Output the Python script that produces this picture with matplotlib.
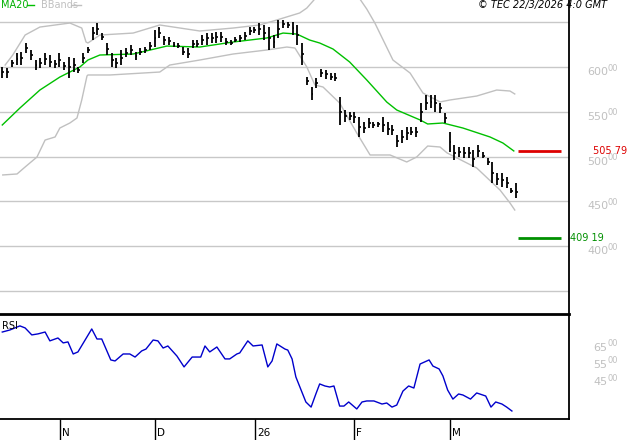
import numpy as np
import matplotlib
matplotlib.use("Agg")
import matplotlib.pyplot as plt

# daily bars (high / low / close)
highs = [600, 599, 608, 616, 617, 627, 619, 608, 610, 616, 613, 608, 616, 606, 611, 610, 600, 616, 622, 645,
         649, 638, 627, 616, 610, 619, 621, 625, 617, 621, 622, 628, 641, 645,
         635, 633, 628, 627, 622, 621, 630, 630, 636, 638, 638, 639, 639, 632, 630, 633, 636, 639, 645, 645,
         649, 647, 645, 636, 652, 652, 650, 650, 647,
         627, 589, 578, 588, 598, 597, 593, 593, 567, 552, 550, 550, 544, 539, 543, 539, 539, 544, 539, 535,
         524, 530, 533, 533, 533, 560, 569, 569, 569, 560, 549, 527, 513, 511, 511, 511, 507, 513, 505, 498,
         494, 482, 482, 477, 465, 470]
lows = [588, 588, 600, 602, 602, 616, 608, 597, 599, 602, 600, 599, 600, 597, 588, 594, 593, 604, 616, 630,
        636, 630, 613, 600, 599, 602, 611, 613, 608, 613, 616, 619, 622, 632,
        625, 625, 622, 621, 613, 610, 621, 622, 625, 625, 627, 627, 628, 625, 625, 628, 628, 630, 636, 638,
        636, 630, 619, 621, 632, 644, 644, 636, 625,
        602, 580, 563, 577, 589, 587, 586, 584, 535, 539, 541, 538, 522, 526, 532, 532, 533, 527, 524, 524,
        511, 515, 519, 524, 522, 539, 552, 554, 550, 549, 538, 505, 496, 500, 498, 498, 488, 500, 498, 491,
        471, 468, 466, 465, 459, 454]
closes = [594, 594, 604, 609, 610, 621, 613, 602, 604, 609, 606, 603, 608, 601, 600, 602, 597, 610, 619, 638,
          642, 634, 620, 608, 604, 610, 616, 619, 612, 617, 619, 623, 632, 638,
          630, 629, 625, 624, 617, 615, 626, 626, 630, 632, 632, 633, 634, 628, 627, 630, 632, 635, 640, 641,
          642, 638, 632, 628, 642, 648, 647, 643, 636,
          614, 584, 570, 582, 593, 592, 589, 588, 550, 545, 545, 544, 533, 532, 537, 535, 536, 535, 531, 530,
          517, 522, 526, 528, 527, 550, 560, 561, 560, 554, 543, 516, 504, 505, 504, 504, 497, 506, 501, 494,
          482, 475, 474, 471, 462, 461]

ma_idx = [0, 3.7, 7.9, 12.1, 16.3, 18, 20.5, 27.5, 34.6, 41.5, 48.5, 55.6, 59, 61.9, 64.6, 66.7, 69.5, 73,
          76.6, 80.8, 82.9, 87.8, 89.4, 92.6, 96.8, 102.5, 105.2, 107.5]
ma20 = [535.3, 554.2, 574.3, 588.8, 600, 607.8, 613.4, 614.5, 623.4, 622.3, 627.9, 632.4, 637.9, 636.8,
        630.1, 626.8, 620.1, 605.6, 585.5, 560.9, 552, 540.9, 536.4, 537.5, 531.9, 521.9, 515.2, 506.3]

up_idx = [0.6, 2.2, 4.8, 7.9, 14.2, 16.7, 17.6, 18, 20.5, 27.5, 33.1, 41.5, 48.5, 54.1, 57.7, 62.5, 64, 71,
          76.6, 78.3, 82.1, 85.7, 88.4, 92, 94.1, 99.7, 103.9, 106.7, 107.7]
bb_up = [602.2, 613.4, 635.7, 644.6, 649.1, 643.5, 627.9, 626.8, 635.7, 637.9, 646.9, 640.2, 643.5, 646.9,
         652.5, 660.3, 665.8, 708, 664.7, 649.1, 607.8, 593.3, 571, 561, 563.2, 567.6, 574.3, 573.2, 569.9]

lo_idx = [0.1, 3.1, 4.8, 7.3, 9, 11.1, 12.1, 14.2, 15.7, 16.7, 17.8, 18, 22.6, 33.1, 35.2, 41.5, 48.5, 55.6,
          59.8, 61.5, 64, 65.7, 67.4, 70.9, 74.5, 77.3, 81.5, 85, 87.1, 89.4, 92, 93.5, 99.7, 104.6, 106.7, 107.7]
bb_lo = [479.5, 480.6, 488.4, 499.6, 518.5, 521.9, 531.9, 537.5, 543.1, 563.2, 590, 591.1, 591.1, 594.4,
         602.2, 607.8, 614.5, 619, 622.3, 621.2, 600, 579.9, 577.7, 559.8, 526.3, 501.8, 501.8, 494, 499.6,
         511.8, 510.7, 504, 487.3, 462.7, 448.2, 440.4]

rsi_idx = [0, 1.6, 3.7, 4.8, 6.2, 7.5, 9, 10, 11.7, 12.8, 13.8, 14.9, 15.9, 18.8, 19.9, 20.9, 22.8, 23.7,
           25.4, 26.8, 27.9, 29.3, 30.2, 31.7, 32.7, 33.8, 34.8, 36.7, 38.2, 39.9, 41.7, 42.6, 43.6, 45.1,
           46.8, 47.8, 49.3, 49.9, 51.6, 52.7, 54.6, 55.8, 56.7, 57.7, 59.4, 60, 60.9, 61.7, 63.8, 64.9,
           65.9, 66.7, 67.8, 68.8, 69.7, 70.9, 71.8, 72.8, 74.5, 75.6, 76.6, 78.1, 79.8, 80.8, 81.9, 82.9,
           84.2, 85.4, 86.5, 87.8, 89.7, 90.5, 91.8, 92.6, 93.6, 94.7, 95.9, 96.8, 98.4, 99.7, 101.6, 102.7,
           103.7, 105, 106, 107.1]
rsi = [72.6, 73.8, 76.2, 75, 70.9, 71.5, 72.6, 67.4, 69.1, 66.2, 66.8, 59.7, 60.9, 74.4, 68.5, 68.5, 56.2,
       55.6, 59.7, 59.7, 57.9, 61.5, 62.6, 67.9, 67.4, 63.2, 64.4, 58.5, 52.1, 57.9, 57.9, 64.4, 60.9, 63.8,
       56.8, 56.8, 59.7, 60.3, 67.4, 64.4, 65, 52.1, 55.6, 65.6, 62.6, 62, 56.8, 46.2, 31.5, 28.5, 36.2,
       42.1, 40.9, 40.3, 40.9, 29.1, 29.1, 31.5, 27.4, 31.5, 32.1, 32.1, 30.3, 30.9, 28.5, 29.7, 37.9, 40.9,
       39.7, 53.8, 56.2, 52.6, 50.9, 46.8, 38.5, 33.2, 36.2, 35.6, 33.2, 36.8, 35, 28.5, 31.5, 30.3, 28.5, 26.2]

month_idx = [12.1, 32.1, 53.1, 73.9, 94]
month_lab = ["N", "D", "26", "F", "M"]
price_ticks = [400, 450, 500, 550, 600]
grid_lines = [350, 400, 450, 500, 550, 600, 650]
rsi_ticks = [45, 55, 65]
resist = 505.79
support = 409.19

GRID = "#c8c8c8"
LAB = "#c0c0c0"
x = np.arange(len(highs))
xlim = (-0.48, 119.1)

fig = plt.figure(figsize=(6.27, 4.4), dpi=100)
ax = fig.add_axes([0, 1 - 314 / 440, 569 / 627, 314 / 440])
ax2 = fig.add_axes([0, 21 / 440, 569 / 627, 104 / 440])

ax.set_xlim(*xlim)
ax.set_ylim(324.3, 674.8)
for g in grid_lines:
    ax.axhline(g, color=GRID, lw=1, zorder=0)
ax.plot(up_idx, bb_up, color="#c0c0c0", lw=1)
ax.plot(lo_idx, bb_lo, color="#c0c0c0", lw=1)
ax.plot(ma_idx, ma20, color="#00c000", lw=1)
ax.vlines(x, lows, highs, color="black", lw=1.3)
ax.hlines(closes, x, x + 0.4, color="black", lw=1.2)
ax.hlines(resist, 108.3, 117.4, color="#dd0000", lw=2)
ax.hlines(support, 108.3, 117.4, color="#009000", lw=2)
ax.set_xticks([])
ax.set_yticks([])
for s in ["left", "top"]:
    ax.spines[s].set_visible(False)
ax.spines["bottom"].set_linewidth(2)
ax.spines["right"].set_linewidth(1.3)

for p in price_ticks:
    ax.annotate(f"{p}", (1, p), xycoords=("axes fraction", "data"), xytext=(18, -5),
                textcoords="offset pixels", color=LAB, fontsize=8, va="center", annotation_clip=False)
    ax.annotate("00", (1, p), xycoords=("axes fraction", "data"), xytext=(38, -1),
                textcoords="offset pixels", color=LAB, fontsize=6, va="center", annotation_clip=False)
ax.annotate("505 79", (1, resist), xycoords=("axes fraction", "data"), xytext=(24, 0),
            textcoords="offset pixels", color="#dd0000", fontsize=7, va="center", annotation_clip=False)
ax.annotate("409 19", (1, support), xycoords=("axes fraction", "data"), xytext=(1, 0),
            textcoords="offset pixels", color="#009000", fontsize=7, va="center", annotation_clip=False)

fig.text(1 / 627, 1 - 5 / 440, "MA20", color="#00b000", fontsize=7, va="center")
fig.add_artist(plt.Line2D([27 / 627, 34 / 627], [1 - 5 / 440] * 2, color="#00c000", lw=1))
fig.text(41 / 627, 1 - 5 / 440, "BBands", color="#c0c0c0", fontsize=7, va="center")
fig.add_artist(plt.Line2D([71 / 627, 81 / 627], [1 - 5 / 440] * 2, color="#c0c0c0", lw=1))
fig.text(607 / 627, 1 - 5 / 440, "\u00a9 TEC 22/3/2026 4:0 GMT", fontsize=7, style="italic",
         ha="right", va="center")

ax2.set_xlim(*xlim)
ax2.set_ylim(21.5, 82.6)
ax2.plot(rsi_idx, rsi, color="#0000cc", lw=1)
ax2.spines["left"].set_visible(False)
for s in ["top", "right", "bottom"]:
    ax2.spines[s].set_linewidth(1.3)
ax2.set_yticks([])
ax2.set_xticks(month_idx)
ax2.set_xticklabels([])
ax2.tick_params(axis="x", direction="out", length=16, width=1)
for m, lab in zip(month_idx, month_lab):
    ax2.annotate(lab, (m, 0), xycoords=("data", "axes fraction"), xytext=(2, -14),
                 textcoords="offset pixels", fontsize=7.5, va="center", annotation_clip=False)
for r in rsi_ticks:
    ax2.annotate(f"{r}", (1, r), xycoords=("axes fraction", "data"), xytext=(24, -3),
                 textcoords="offset pixels", color=LAB, fontsize=8, va="center", annotation_clip=False)
    ax2.annotate("00", (1, r), xycoords=("axes fraction", "data"), xytext=(38, 1),
                 textcoords="offset pixels", color=LAB, fontsize=6, va="center", annotation_clip=False)
ax2.text(0.003, 0.87, "RSI", transform=ax2.transAxes, fontsize=7)

fig.savefig("out.png", dpi=100)
